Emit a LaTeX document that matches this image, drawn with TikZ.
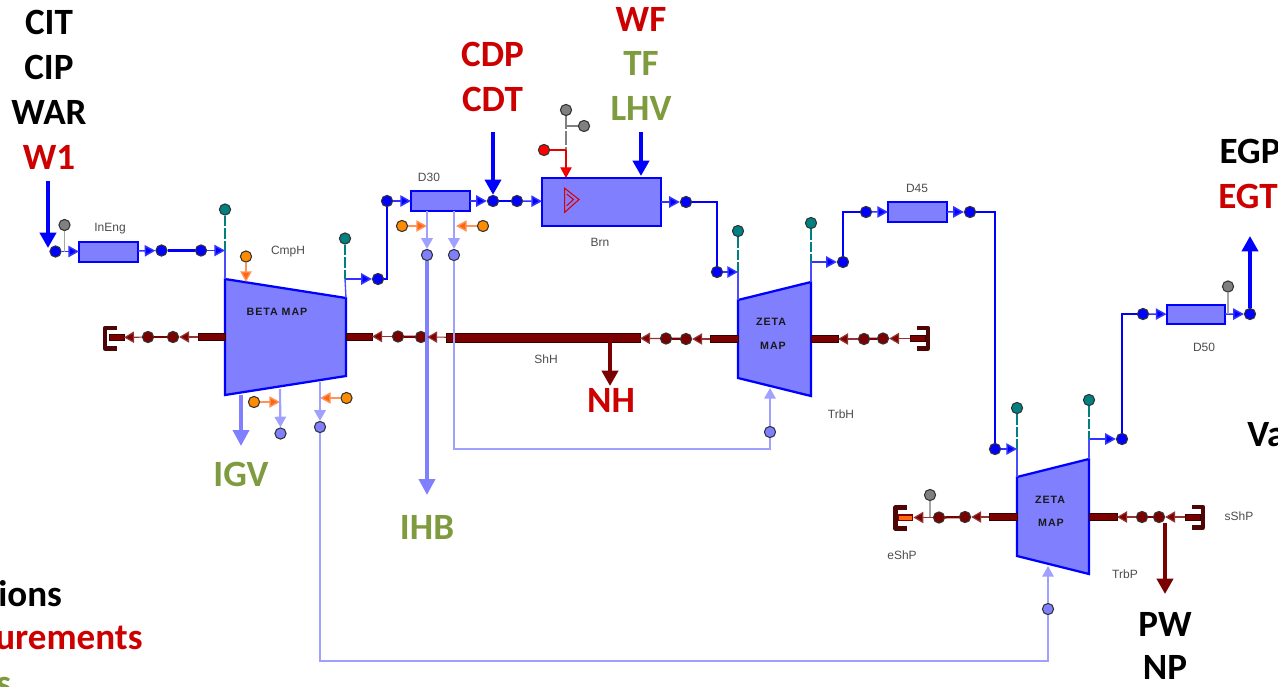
\documentclass[tikz,border=0pt]{standalone}
\usepackage{fontspec}
\setmainfont{Carlito}
\newfontfamily\smallfont{Liberation Sans}
\newfontfamily\mapfont[LetterSpace=9]{Liberation Sans}
\usetikzlibrary{arrows.meta}
\definecolor{mblue}{HTML}{0000FF}
\definecolor{lblue}{HTML}{8080FF}
\definecolor{pblue}{HTML}{A0A0FF}
\definecolor{dred}{HTML}{7B0000}
\definecolor{bkt}{HTML}{4D0505}
\definecolor{tealc}{HTML}{008080}
\definecolor{orgd}{HTML}{FF8C00}
\definecolor{orga}{HTML}{FF6611}
\definecolor{grayd}{HTML}{808080}
\definecolor{lbred}{HTML}{CC0000}
\definecolor{lbgreen}{HTML}{7F9B3F}
\tikzset{
  x=0.75pt,y=-0.75pt,
  dotbase/.style={circle,draw=black!80,line width=0.8pt,inner sep=0pt,minimum size=8.4pt},
  bdot/.style={dotbase,fill=mblue},
  ldot/.style={dotbase,fill=lblue},
  rdot/.style={dotbase,fill=dred},
  tdot/.style={dotbase,fill=tealc},
  odot/.style={dotbase,fill=orgd},
  gdot/.style={dotbase,fill=grayd},
  rrdot/.style={dotbase,fill=red},
  flow/.style={draw=mblue!80!white,line width=1.1pt,-{Triangle[length=8pt,width=8.5pt,fill=mblue]}},
  wire/.style={draw=mblue,line width=1.7pt},
  bigin/.style={draw=mblue,line width=3pt,-{Triangle[length=11.5pt,width=12pt]}},
  lthin/.style={draw=pblue,line width=1.6pt,-{Triangle[length=8pt,width=8.5pt,fill=pblue]}},
  lwire/.style={draw=pblue,line width=1.8pt},
  lbig/.style={draw=lblue,line width=2.8pt,-{Triangle[length=12pt,width=12pt]}},
  sarrow/.style={draw=dred!80!white,line width=0.9pt,-{Triangle[length=7.5pt,width=8.5pt,fill=dred]}},
  swire/.style={draw=dred,line width=1.7pt},
  obig/.style={draw=dred,line width=3pt,-{Triangle[length=11.5pt,width=12pt]}},
  oarrow/.style={draw=orga!70!white,line width=1pt,-{Triangle[length=8pt,width=8.5pt,fill=orga]}},
  teald/.style={draw=tealc,line width=1.6pt,dash pattern=on 8pt off 1.5pt},
  thinb/.style={draw=mblue!70!white,line width=1pt},
  grayl/.style={draw=gray!70,line width=1pt},
  graydash/.style={draw=gray,line width=2pt,dash pattern=on 10pt off 1.5pt},
  redl/.style={draw=red!90!black,line width=0.9pt},
  redarr/.style={draw=red!90!black,line width=0.9pt,-{Triangle[length=8pt,width=8.5pt,fill=red]}},
  boxn/.style={draw=mblue,fill=lblue,line width=1.5pt,inner sep=0pt,outer sep=0pt},
  barn/.style={draw=black!55!dred,fill=dred,line width=0.4pt,inner sep=0pt,outer sep=0pt},
  map/.style={draw=mblue,fill=lblue,line width=1.7pt,line join=miter},
  brk/.style={draw=bkt,line width=3.2pt,line join=round},
  lbl/.style={font=\smallfont\fontsize{9}{10}\selectfont,text=black!70,inner sep=0pt},
  maplbl/.style={font=\mapfont\bfseries\fontsize{8}{9}\selectfont,text=black!90,inner sep=0pt},
  big/.style={font=\bfseries\fontsize{27.8}{30}\selectfont,inner sep=0pt},
  bigk/.style={big,text=black},
  bigr/.style={big,text=lbred},
  bigg/.style={big,text=lbgreen},
}
\newcommand{\rectn}[6]{\node[#1,minimum width={(#5-#3)*0.75pt},minimum height={(#6-#4)*0.75pt}] (#2) at ({(#3+#5)/2},{(#4+#6)/2}) {};}
\begin{document}
\begin{tikzpicture}
\useasboundingbox (0,0) rectangle (1278,686);
\clip (0,0) rectangle (1278,686);

% big text
\node[bigk] (tCIT) at (49,22) {CIT};
\node[bigk] (tCIP) at (49,67) {CIP};
\node[bigk] (tWAR) at (49,112) {WAR};
\node[bigr] (tW1) at (49,157) {W1};
\node[bigr] (tCDP) at (492.5,54) {CDP};
\node[bigr] (tCDT) at (492.5,99) {CDT};
\node[bigr] (tWF) at (641,19) {WF};
\node[bigg] (tTF) at (641,63) {TF};
\node[bigg] (tLHV) at (641,108) {LHV};
\node[bigk] (tEGP) at (1250,151) {EGP};
\node[bigr] (tEGT) at (1248,196) {EGT};
\node[bigk,anchor=west] (tVa) at (1247,435) {Va};
\node[bigr] (tNH) at (611,400) {NH};
\node[bigg] (tIGV) at (241,474) {IGV};
\node[bigg] (tIHB) at (427,527) {IHB};
\node[bigk] (tPW) at (1165,624) {PW};
\node[bigk] (tNP) at (1165,667.5) {NP};
\node[bigk,anchor=west] (tions) at (-2,594) {ions};
\node[bigr,anchor=west] (turem) at (-5,638) {urements};
\node[bigg,anchor=west] (ts) at (-4,686) {s};

% small labels
\node[lbl] (lInEng) at (110,229) {InEng};
\node[lbl] (lCmpH) at (288,252) {CmpH};
\node[lbl] (lD30) at (429,177) {D30};
\node[lbl] (lBrn) at (600,242) {Brn};
\node[lbl] (lShH) at (546,359) {ShH};
\node[lbl] (lTrbH) at (841,414) {TrbH};
\node[lbl] (lD45) at (917,188) {D45};
\node[lbl] (lD50) at (1204,347) {D50};
\node[lbl] (lsShP) at (1239,516) {sShP};
\node[lbl] (leShP) at (902,555) {eShP};
\node[lbl] (lTrbP) at (1125,574) {TrbP};

% maps
\draw[map] (225,279) coordinate (c1) -- (346,298) coordinate (c2) -- (346,376) coordinate (c3) -- (225,395) coordinate (c4) -- cycle;
\draw[map] (738,300) coordinate (h1) -- (811,282) coordinate (h2) -- (811,396) coordinate (h3) -- (738,378) coordinate (h4) -- cycle;
\draw[map] (1017,477) coordinate (p1) -- (1089,459) coordinate (p2) -- (1089,574) coordinate (p3) -- (1017,556) coordinate (p4) -- cycle;
\node[maplbl] (mBeta) at (277,312) {BETA MAP};
\node[maplbl] (mZ1) at (771,322) {ZETA};
\node[maplbl] (mM1) at (773,346) {MAP};
\node[maplbl] (mZ2) at (1050,500) {ZETA};
\node[maplbl] (mM2) at (1051,523) {MAP};

% boxes
\rectn{boxn}{InEng}{79}{241.5}{138}{261.5}
\rectn{boxn}{D30}{411}{191}{469.5}{211}
\rectn{boxn}{Brn}{542}{178}{660.5}{226}
\rectn{boxn}{D45}{888}{202}{947}{221.5}
\rectn{boxn}{D50}{1166.5}{304.5}{1225}{324}

% triangle symbol in burner
\draw[draw=red!85!black,line width=0.8pt] (564.7,188.3) -- (579,199.5) -- (564.7,212.3) -- cycle;
\draw[draw=red!85!black,line width=0.8pt] (566.7,194) -- (573.5,199.5) -- (566.7,205.7);

% shaft bars
\rectn{barn}{bA}{198}{333.5}{225}{340.5}
\rectn{barn}{bB}{346}{333}{372}{340}
\rectn{barn}{bC}{446}{333.5}{640}{342}
\rectn{barn}{bD}{710}{335.5}{738}{342.5}
\rectn{barn}{bE}{811}{335.5}{838}{342.5}
\rectn{barn}{bF}{989}{513.5}{1017}{520.5}
\rectn{barn}{bG}{1089}{513.5}{1117}{520.5}
\rectn{barn}{eA}{109}{334.5}{124}{340.5}
\rectn{barn}{eE}{910}{335.5}{925}{341.5}
\rectn{barn}{eG}{1185}{514}{1200}{520}
\node[draw=dred,fill=orga,line width=0.8pt,inner sep=0pt,minimum width=11pt,minimum height=3.8pt] (eF) at (905.5,517.5) {};

% brackets
\draw[brk] (117,328) -- (105,328) -- (105,348.5) -- (117,348.5);
\draw[brk] (917,328) -- (928,328) -- (928,348.5) -- (917,348.5);
\draw[brk] (907,507.5) -- (895.5,507.5) -- (895.5,528.5) -- (907,528.5);
\draw[brk] (1192,507) -- (1203,507) -- (1203,527.5) -- (1192,527.5);

% dots
\node[bdot] (a1) at (55.5,251.5) {};
\node[gdot] (a1g) at (64.5,225) {};
\coordinate (a1j) at (64.5,251.5);
\node[bdot] (a2) at (161.5,250.5) {};
\node[bdot] (a3) at (201,250.5) {};
\coordinate (cin) at (225,250.5);
\node[tdot] (ct) at (225,209.5) {};
\node[odot] (co) at (246,256.5) {};
\coordinate (cot) at (246,282);
\node[tdot] (ct2) at (345,238.5) {};
\coordinate (cout) at (345,279);
\node[bdot] (a4) at (378,279) {};
\node[bdot] (a5) at (387,201) {};
\coordinate (a45) at (387,279);
\node[bdot] (a6) at (493,201) {};
\node[bdot] (a7) at (517,201) {};
\node[bdot] (a8) at (686,202) {};
\coordinate (a89) at (717,202);
\node[bdot] (a9) at (717,272) {};
\coordinate (hin) at (738,272);
\node[tdot] (ht) at (738,231) {};
\node[tdot] (ht2) at (811,223) {};
\coordinate (hout) at (811,262);
\node[bdot] (a10) at (843,262) {};
\node[bdot] (a11) at (866,212) {};
\coordinate (a1011) at (843,212);
\node[bdot] (a12) at (970,212) {};
\coordinate (a1213) at (995,212);
\node[bdot] (a13) at (995,449) {};
\coordinate (pin) at (1017,449);
\node[tdot] (pt) at (1017,408) {};
\node[tdot] (pt2) at (1089,400) {};
\coordinate (pout) at (1089,439);
\node[bdot] (a14) at (1122,439) {};
\coordinate (a1415) at (1122,314);
\node[bdot] (a15) at (1143,314) {};
\node[bdot] (a16) at (1250,314) {};
\node[gdot] (a16g) at (1228,286.5) {};
\coordinate (a16j) at (1228,314);

% orange and bleed dots
\node[odot] (o1) at (254,402) {};
\coordinate (o1t) at (280,402);
\node[odot] (o2) at (346.5,398) {};
\coordinate (o2t) at (320,398);
\node[odot] (o3) at (402,226) {};
\coordinate (o3t) at (427,226);
\node[odot] (o4) at (483,226) {};
\coordinate (o4t) at (456,226);
\node[ldot] (l1) at (280.5,433.5) {};
\node[ldot] (l2) at (320,427) {};
\node[ldot] (l3) at (427,255) {};
\node[ldot] (l4) at (454,255) {};
\node[ldot] (l5) at (770,432) {};
\node[ldot] (l6) at (1048,609) {};

% burner inputs
\node[gdot] (g1) at (566,110) {};
\node[gdot] (g2) at (584,126) {};
\coordinate (gj) at (566,126);
\coordinate (gr) at (566,150);
\node[rrdot] (r1) at (544,150) {};

% shaft dots
\node[rdot] (s1) at (173,337) {};
\node[rdot] (s2) at (148,337) {};
\node[rdot] (s3) at (421,337) {};
\node[rdot] (s4) at (398,336.5) {};
\node[rdot] (s5) at (686,339) {};
\node[rdot] (s6) at (666,338.5) {};
\node[rdot] (s7) at (864,339) {};
\node[rdot] (s8) at (883,338.5) {};
\node[rdot] (s9) at (965,517) {};
\node[rdot] (s10) at (939,517.5) {};
\node[gdot] (s10g) at (930,495) {};
\coordinate (s10j) at (930,517.5);
\node[rdot] (s11) at (1142,517) {};
\node[rdot] (s12) at (1159,517) {};

% free ends of big arrows
\coordinate (w1s) at (48,181);
\coordinate (w1e) at (48,248);
\coordinate (cdts) at (493,132);
\coordinate (lhvs) at (641,132);
\coordinate (lhve) at (641,176);
\coordinate (egte) at (1250,236);
\coordinate (igv0) at (241,395);
\coordinate (igv1) at (241,446);
\coordinate (ihb1) at (427,495);
\coordinate (nh0) at (610,342);
\coordinate (nh1) at (610,386);
\coordinate (pw0) at (1165,523);
\coordinate (pw1) at (1165,594);
\coordinate (l10) at (280,389);
\coordinate (l20) at (320,382);
\coordinate (l30) at (427,211);
\coordinate (l40) at (454,211);
\coordinate (h4b) at (770,388);
\coordinate (p4b) at (1048,566);
\coordinate (cr1) at (454,449);
\coordinate (cr2) at (770,449);
\coordinate (cr3) at (320,661);
\coordinate (cr4) at (1048,661);
\coordinate (brni) at (566,178);

% big arrows
\draw[bigin] (w1s) -- (w1e);
\draw[bigin] (cdts) -- (a6);
\draw[bigin] (lhvs) -- (lhve);
\draw[bigin] (a16) -- (egte);
\draw[obig] (nh0) -- (nh1);
\draw[obig] (pw0) -- (pw1);
\draw[lbig] (igv0) -- (igv1);
\draw[lbig] (l3) -- (ihb1);

% flow
\draw[flow] (a1) -- (InEng);
\draw[flow] (InEng) -- (a2);
\draw[wire] (a2) -- (a3);
\draw[flow] (a3) -- (cin);
\draw[thinb] (cin) -- (c1);
\draw[flow] (cout) -- (a4);
\draw[thinb] (cout) -- (c2);
\draw[wire] (a4) -- (a45) -- (a5);
\draw[flow] (a5) -- (D30);
\draw[flow] (D30) -- (a6);
\draw[wire] (a6) -- (a7);
\draw[flow] (a7) -- (Brn);
\draw[flow] (Brn) -- (a8);
\draw[wire] (a8) -- (a89) -- (a9);
\draw[flow] (a9) -- (hin);
\draw[thinb] (hin) -- (h1);
\draw[flow] (hout) -- (a10);
\draw[thinb] (hout) -- (h2);
\draw[wire] (a10) -- (a1011) -- (a11);
\draw[flow] (a11) -- (D45);
\draw[flow] (D45) -- (a12);
\draw[wire] (a12) -- (a1213) -- (a13);
\draw[flow] (a13) -- (pin);
\draw[thinb] (pin) -- (p1);
\draw[flow] (pout) -- (a14);
\draw[thinb] (pout) -- (p2);
\draw[wire] (a14) -- (a1415) -- (a15);
\draw[flow] (a15) -- (D50);
\draw[flow] (D50) -- (a16);

% teal
\draw[teald] (ct) -- (cin);
\draw[teald] (ct2) -- (cout);
\draw[teald] (ht) -- (hin);
\draw[teald] (ht2) -- (hout);
\draw[teald] (pt) -- (pin);
\draw[teald] (pt2) -- (pout);

% gray and red
\draw[grayl] (a1g) -- (a1j);
\draw[grayl] (a16g) -- (a16j);
\draw[grayl] (s10g) -- (s10j);
\draw[graydash] (g1) -- (gr);
\draw[draw=gray,line width=1.8pt] (gj) -- (g2);
\draw[redl] (r1) -- (gr);
\draw[redarr] (gr) -- (brni);

% orange
\draw[oarrow] (co) -- (cot);
\draw[oarrow] (o1) -- (o1t);
\draw[oarrow] (o2) -- (o2t);
\draw[oarrow] (o3) -- (o3t);
\draw[oarrow] (o4) -- (o4t);

% bleeds
\draw[lthin] (l10) -- (l1);
\draw[lthin] (l20) -- (l2);
\draw[lthin] (l30) -- (l3);
\draw[lthin] (l40) -- (l4);
\draw[lwire] (l4) -- (cr1) -- (cr2) -- (l5);
\draw[lwire] (l2) -- (cr3) -- (cr4) -- (l6);
\draw[lthin] (l5) -- (h4b);
\draw[lthin] (l6) -- (p4b);

% shaft
\draw[sarrow] (bA) -- (s1);
\draw[swire] (s1) -- (s2);
\draw[sarrow] (s2) -- (eA);
\draw[sarrow] (s4) -- (bB);
\draw[swire] (s3) -- (s4);
\draw[sarrow] (bC) -- (s3);
\draw[sarrow] (s6) -- (bC);
\draw[swire] (s5) -- (s6);
\draw[sarrow] (bD) -- (s5);
\draw[sarrow] (s7) -- (bE);
\draw[swire] (s7) -- (s8);
\draw[sarrow] (eE) -- (s8);
\draw[sarrow] (bF) -- (s9);
\draw[swire] (s9) -- (s10);
\draw[sarrow] (s10) -- (eF);
\draw[sarrow] (s11) -- (bG);
\draw[swire] (s11) -- (s12);
\draw[sarrow] (eG) -- (s12);
\end{tikzpicture}
\end{document}
